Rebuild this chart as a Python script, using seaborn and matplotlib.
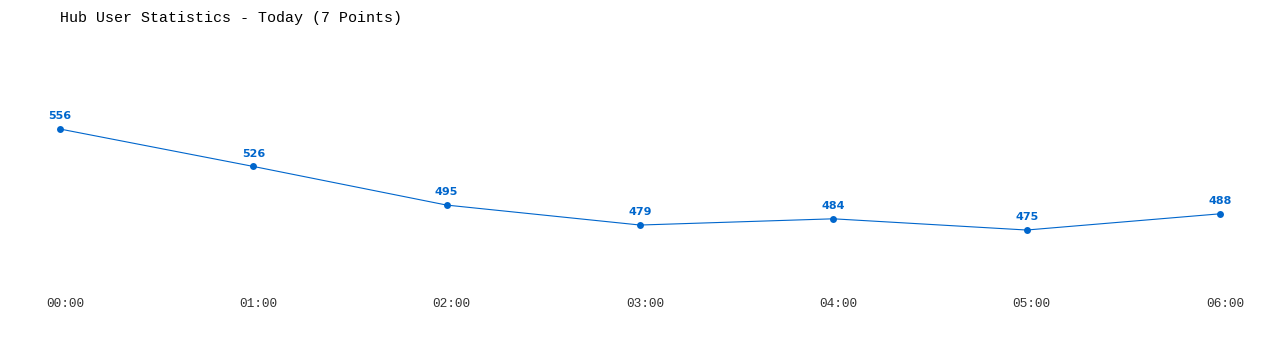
import matplotlib
matplotlib.use("Agg")
import matplotlib.pyplot as plt
import seaborn as sns
import pandas as pd

times = ["00:00", "01:00", "02:00", "03:00", "04:00", "05:00", "06:00"]
users = [556, 526, 495, 479, 484, 475, 488]
title = "Hub User Statistics - Today (7 Points)"

color = "#0066cc"
df = pd.DataFrame({"x": range(len(times)), "users": users})

sns.set_theme(style="white")
W, H = 1280, 350
fig = plt.figure(figsize=(W / 100, H / 100), dpi=100)
left_px, right_px = 60, 1220          # first / last point positions
shift_px = 5                          # tick labels sit ~5px right of points
n = len(times) - 1
unit_px = (right_px - left_px) / n
label_shift = shift_px / unit_px
ax = fig.add_axes([left_px / W, 1 - 290 / H,
                   (right_px + shift_px - left_px) / W, (290 - 40) / H])

sns.lineplot(data=df, x="x", y="users", ax=ax, color=color, linewidth=0.8,
             marker="o", markersize=5, markeredgewidth=0, markeredgecolor=color,
             clip_on=False)

for xi, v in zip(df["x"], df["users"]):
    ax.annotate(str(v), (xi, v), xytext=(0, 5.5), textcoords="offset points",
                ha="center", va="bottom", fontsize=8, fontweight="bold",
                color=color, family="DejaVu Sans")

ax.set_xticks([i + label_shift for i in range(len(times))])
ax.set_xticklabels(times, family="Liberation Mono", fontsize=9.2, color="#333333")
ax.set_xlim(0, n + label_shift)
ax.set_ylim(426.9, 627.4)
ax.set_yticks([])
ax.tick_params(axis="x", length=0, pad=6)
ax.set_xlabel("")
ax.set_ylabel("")
for s in ax.spines.values():
    s.set_visible(False)
ax.set_facecolor("white")

fig.text(60 / W, 1 - 18 / H, title, ha="left", va="center",
         family="Liberation Mono", fontsize=10.8, color="#000000")

fig.savefig("out.png", dpi=100, facecolor="white")
